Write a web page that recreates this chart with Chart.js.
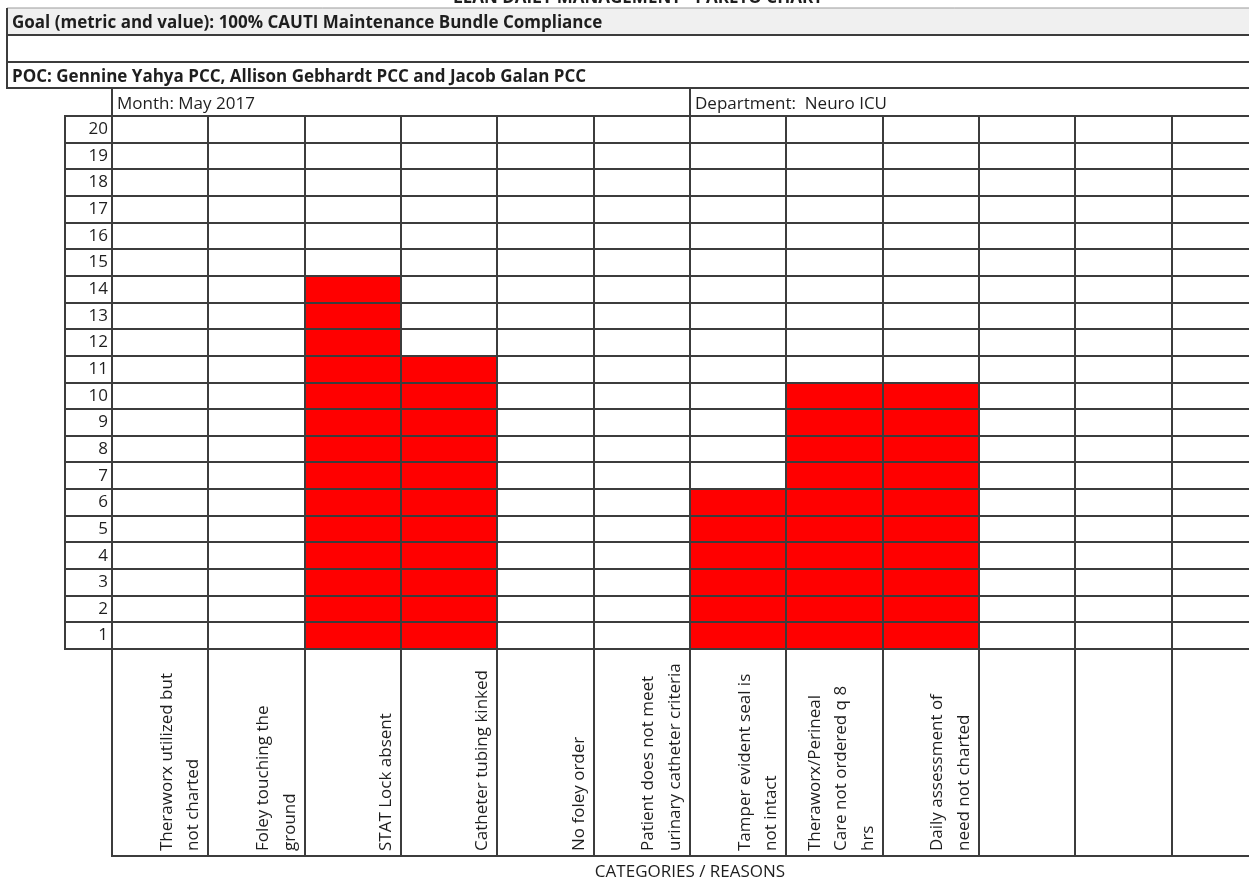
<!DOCTYPE html>
<html>
<head>
<meta charset="utf-8">
<title>CAUTI Maintenance Bundle - Pareto</title>
<script src="https://cdn.jsdelivr.net/npm/chart.js@4.4.1/dist/chart.umd.min.js"></script>
<style>
  html, body { margin: 0; padding: 0; background: #fff; overflow: hidden; }
  #wrap { position: absolute; left: 0; top: 0; width: 1270px; height: 878px; }
</style>
</head>
<body>
<div id="wrap"><canvas id="paretoChart" width="1270" height="878"></canvas></div>
<script>
// Sheet header text
const sheetTitle = 'LEAN DAILY MANAGEMENT - PARETO CHART';
const goalText = 'Goal (metric and value): 100% CAUTI Maintenance Bundle Compliance';
const pocText = 'POC: Gennine Yahya PCC, Allison Gebhardt PCC and Jacob Galan PCC';
const monthText = 'Month: May 2017';
const deptText = 'Department:  Neuro ICU';
const axisTitle = 'CATEGORIES / REASONS';

// Reasons, wrapped the way the sheet wraps them
const reasons = [
    ['Theraworx utilized but', 'not charted'],
    ['Foley touching the', 'ground'],
    ['STAT Lock absent'],
    ['Catheter tubing kinked'],
    ['No foley order'],
    ['Patient does not meet', 'urinary catheter criteria'],
    ['Tamper evident seal is', 'not intact'],
    ['Theraworx/Perineal', 'Care not ordered q 8', 'hrs'],
    ['Daily assessment of', 'need not charted'],
    [''],
    [''],
    ['']
];

// Tally for each reason
const counts = [0, 0, 14, 11, 0, 0, 6, 10, 10, 0, 0, 0];

// Row numbers down the left side
const rowLabels = ['1', '2', '3', '4', '5', '6', '7', '8', '9', '10',
    '11', '12', '13', '14', '15', '16', '17', '18', '19', '20'];

const FONT = "'Open Sans', 'DejaVu Sans', sans-serif";
const TEXT = '#1e1e1e';
const LINE = '#3c3c3c';
const ROW_COL_W = 47;     // width of the row-number column
const LABEL_H = 207;      // height of the reason cells under the grid

Chart.defaults.font.family = FONT;
Chart.defaults.font.size = 17;
Chart.defaults.color = TEXT;

function hLine(ctx, x1, x2, y, color, w) {
    ctx.strokeStyle = color;
    ctx.lineWidth = w;
    ctx.beginPath();
    ctx.moveTo(x1, y);
    ctx.lineTo(x2, y);
    ctx.stroke();
}

function vLine(ctx, x, y1, y2, color, w) {
    ctx.strokeStyle = color;
    ctx.lineWidth = w;
    ctx.beginPath();
    ctx.moveTo(x, y1);
    ctx.lineTo(x, y2);
    ctx.stroke();
}

// Spreadsheet frame: header rows, outer borders and the rotated reason labels
const sheetFrame = {
    id: 'sheetFrame',
    beforeDraw(chart) {
        const ctx = chart.ctx;
        const W = chart.width;
        const area = chart.chartArea;
        const xs = chart.scales.x;
        ctx.save();
        ctx.fillStyle = '#f0f0f0';
        ctx.fillRect(7, 8, W, 27);

        ctx.fillStyle = TEXT;
        ctx.textBaseline = 'alphabetic';
        ctx.font = 'bold 17px ' + FONT;
        ctx.textAlign = 'center';
        ctx.fillText(sheetTitle, 638, 3);
        ctx.textAlign = 'left';
        ctx.fillText(goalText, 12, 28);
        ctx.fillText(pocText, 12, 82);

        ctx.font = '17px ' + FONT;
        const split = xs.getPixelForValue(5) + (xs.getPixelForValue(1) - xs.getPixelForValue(0)) / 2;
        ctx.fillText(monthText, area.left + 5, 109);
        ctx.fillText(deptText, split + 5, 109);

        hLine(ctx, 7, W, 8, '#9a9a9a', 1);
        hLine(ctx, 7, W, 35, LINE, 2);
        hLine(ctx, 7, W, 62, LINE, 2);
        hLine(ctx, 7, W, 88, LINE, 2);
        vLine(ctx, 7, 8, 89, LINE, 2);
        vLine(ctx, area.left, 88, area.top, LINE, 2);
        vLine(ctx, split, 88, area.top, LINE, 2);
        ctx.restore();
    },
    afterDraw(chart) {
        const ctx = chart.ctx;
        const area = chart.chartArea;
        const xs = chart.scales.x;
        const colW = xs.getPixelForValue(1) - xs.getPixelForValue(0);
        const labelBottom = area.bottom + LABEL_H;
        ctx.save();
        // row-number column and reason-cell borders
        vLine(ctx, area.left - ROW_COL_W, area.top - 1, area.bottom + 1, LINE, 2);
        hLine(ctx, area.left - 1, chart.width, labelBottom, LINE, 2);

        ctx.fillStyle = TEXT;
        ctx.font = '17px ' + FONT;
        ctx.textAlign = 'left';
        ctx.textBaseline = 'middle';
        chart.data.labels.forEach((lines, i) => {
            const right = xs.getPixelForValue(i) + colW / 2;
            lines.forEach((line, j) => {
                const cx = right - 15 - (lines.length - 1 - j) * 26.5;
                ctx.save();
                ctx.translate(cx, labelBottom - 5);
                ctx.rotate(-Math.PI / 2);
                ctx.fillText(line, 0, 0);
                ctx.restore();
            });
        });
        ctx.restore();
    }
};

const ctx = document.getElementById('paretoChart').getContext('2d');
const chart = new Chart(ctx, {
    type: 'bar',
    data: {
        labels: reasons,
        datasets: [{
            label: 'Count',
            data: counts,
            backgroundColor: '#ff0000',
            borderWidth: 0,
            barPercentage: 1,
            categoryPercentage: 1
        }]
    },
    options: {
        responsive: false,
        animation: false,
        layout: { padding: { left: 65, right: 2, top: 116, bottom: 0 } },
        plugins: {
            legend: { display: false },
            tooltip: { enabled: false }
        },
        scales: {
            x: {
                grid: {
                    offset: true,
                    color: LINE,
                    lineWidth: 2,
                    drawTicks: true,
                    tickLength: LABEL_H,
                    z: 1
                },
                border: { display: false },
                ticks: { display: false },
                title: {
                    display: true,
                    text: axisTitle,
                    color: TEXT,
                    font: { size: 17 },
                    padding: { top: 0, bottom: -4 }
                },
                afterFit(scale) { scale.height = LABEL_H + 22; }
            },
            y: {
                min: 0,
                max: 20,
                grid: {
                    color: LINE,
                    lineWidth: 2,
                    drawTicks: true,
                    tickLength: ROW_COL_W,
                    z: 1
                },
                border: { display: false },
                ticks: {
                    stepSize: 1,
                    autoSkip: false,
                    padding: -43,
                    labelOffset: 13.3,
                    color: TEXT,
                    font: { size: 17 },
                    callback: (v) => rowLabels[v - 1] || ''
                },
                afterFit(scale) { scale.width = ROW_COL_W; }
            }
        }
    },
    plugins: [sheetFrame]
});
</script>
</body>
</html>
